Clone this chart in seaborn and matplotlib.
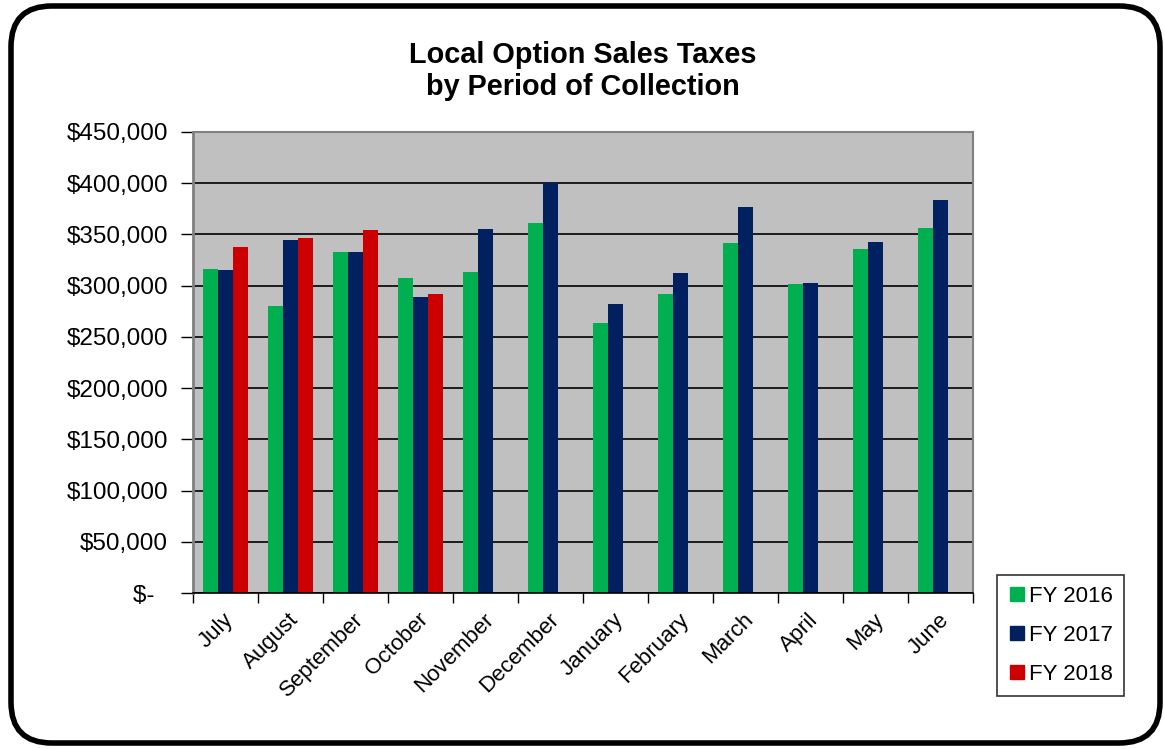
import numpy as np
import pandas as pd
import matplotlib
matplotlib.use("Agg")
import matplotlib.pyplot as plt
import matplotlib.transforms as mtransforms
import seaborn as sns
from matplotlib.patches import FancyBboxPatch
from matplotlib.lines import Line2D
from matplotlib.ticker import FuncFormatter, FixedLocator

months = ["July", "August", "September", "October", "November", "December",
          "January", "February", "March", "April", "May", "June"]
fy2016 = [316000, 280000, 332500, 307500, 313500, 361500, 264000, 292000, 341500, 301500, 335500, 356500]
fy2017 = [315000, 345000, 333000, 289000, 355000, 400500, 282500, 312000, 377000, 303000, 343000, 383500]
fy2018 = [338000, 347000, 354000, 292000, np.nan, np.nan, np.nan, np.nan, np.nan, np.nan, np.nan, np.nan]
series = ["FY 2016", "FY 2017", "FY 2018"]
colors = ["#00B050", "#002060", "#CC0000"]

df = pd.DataFrame({
    "Month": months * 3,
    "Series": [series[0]] * 12 + [series[1]] * 12 + [series[2]] * 12,
    "Value": fy2016 + fy2017 + fy2018,
})

sns.set_theme(style="white")
plt.rcParams["font.family"] = ["Liberation Sans", "DejaVu Sans"]
plt.rcParams["text.color"] = "black"
plt.rcParams["xtick.color"] = "black"
plt.rcParams["ytick.color"] = "black"

fig = plt.figure(figsize=(11.65, 7.49), dpi=100)
ax = fig.add_axes([193 / 1165, 1 - 593 / 749, 780 / 1165, 461 / 749])
ax.set_facecolor("#C0C0C0")

sns.barplot(data=df, x="Month", y="Value", hue="Series", order=months,
            hue_order=series, palette=colors, width=0.69, gap=0,
            saturation=1, ax=ax, legend=False, linewidth=0)

ax.set_ylim(0, 450000)
ax.set_xlim(-0.5, 11.5)
ax.set_yticks(np.arange(0, 450001, 50000))
ax.yaxis.set_major_formatter(FuncFormatter(lambda v, p: "$-  " if v == 0 else f"${v:,.0f}"))
ax.grid(axis="y", color="black", linewidth=1.2)
ax.set_axisbelow(True)
ax.set_xlabel("")
ax.set_ylabel("")

for s in ["top", "right"]:
    ax.spines[s].set_color("#808080")
    ax.spines[s].set_linewidth(1.5)
ax.spines["left"].set_color("#808080")
ax.spines["left"].set_linewidth(2)
ax.spines["bottom"].set_color("black")
ax.spines["bottom"].set_linewidth(1.2)

ax.tick_params(axis="y", which="major", direction="out", length=9, width=1, color="black",
               labelsize=17.5, pad=9, left=True)
ax.set_xticks(range(12))
ax.set_xticklabels(months, rotation=45, ha="right", va="center", rotation_mode="anchor", fontsize=16)
ax.tick_params(axis="x", which="major", length=0, pad=17)
ax.xaxis.set_minor_locator(FixedLocator(np.arange(-0.5, 12, 1)))
ax.tick_params(axis="x", which="minor", direction="out", length=7, width=1, color="black", bottom=True)
offset = mtransforms.ScaledTranslation(5 / 100, 0, fig.dpi_scale_trans)
for lbl in ax.get_xticklabels():
    lbl.set_transform(lbl.get_transform() + offset)

fig.text(583 / 1165, 1 - 63 / 749, "Local Option Sales Taxes",
         ha="center", va="baseline", fontsize=20.8, fontweight="bold")
fig.text(583 / 1165, 1 - 95 / 749, "by Period of Collection",
         ha="center", va="baseline", fontsize=20.8, fontweight="bold")

handles = [Line2D([0], [0], marker="s", linestyle="", markersize=10,
                  markerfacecolor=c, markeredgecolor=c) for c in colors]
leg = fig.legend(handles, series, loc="upper left",
                 bbox_to_anchor=(997 / 1165, 1 - 575 / 749), bbox_transform=fig.transFigure,
                 fontsize=16, frameon=True, fancybox=False, edgecolor="black",
                 handlelength=0.8, handletextpad=0.15, labelspacing=0.8,
                 borderpad=0.5, borderaxespad=0)
leg.get_frame().set_linewidth(1.2)

border = FancyBboxPatch((11 / 1165, 6 / 749), 1160 / 1165 - 11 / 1165, 1 - 12 / 749,
                        boxstyle="round,pad=0,rounding_size=0.035",
                        transform=fig.transFigure, fill=False, edgecolor="black",
                        linewidth=4, mutation_aspect=1165 / 749)
fig.patches.append(border)

fig.savefig("out.png", dpi=100, facecolor="white")
